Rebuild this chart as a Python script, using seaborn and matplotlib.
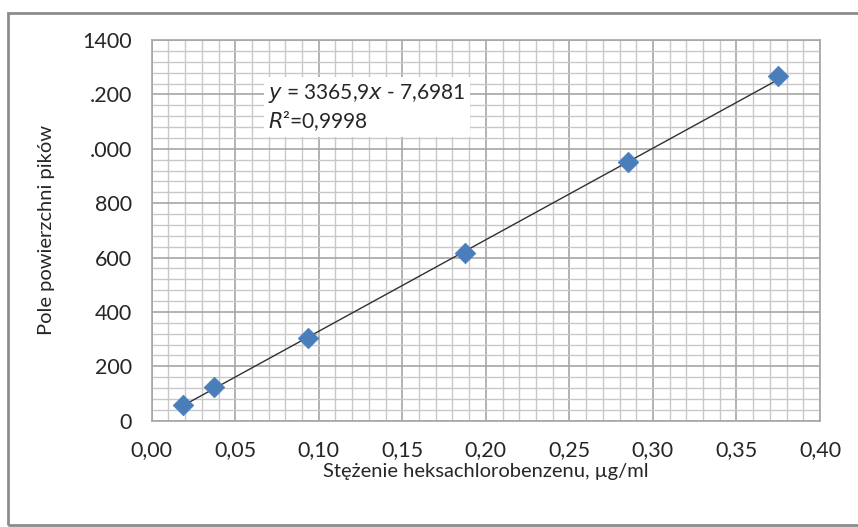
import numpy as np
import pandas as pd
import matplotlib
matplotlib.use("Agg")
import matplotlib.pyplot as plt
import seaborn as sns
from matplotlib.patches import Rectangle
from matplotlib.ticker import MultipleLocator, FixedLocator, FixedFormatter

# data
concentration = [0.01875, 0.0375, 0.0937, 0.1875, 0.285, 0.375]
peak_area = [58, 125, 303, 617, 952, 1268]
slope = 3365.9
intercept = -7.6981
r_squared = "0,9998"
x_ticks = [0.00, 0.05, 0.10, 0.15, 0.20, 0.25, 0.30, 0.35, 0.40]
x_tick_labels = ["0,00", "0,05", "0,10", "0,15", "0,20", "0,25", "0,30", "0,35", "0,40"]
y_ticks = [0, 200, 400, 600, 800, 1000, 1200, 1400]
y_tick_labels = ["0", "200", "400", "600", "800", ".000", ".200", "1400"]


def main():
    sns.set_style("white")
    plt.rcParams["font.family"] = ["Lato", "DejaVu Sans"]

    df = pd.DataFrame({"x": concentration, "y": peak_area})
    x_line = np.array([min(concentration), max(concentration)])
    fit = pd.DataFrame({"x": x_line, "y": slope * x_line + intercept})

    fig = plt.figure(figsize=(8.58, 5.27), dpi=100)
    ax = fig.add_axes([0.1768, 0.2017, 0.9557 - 0.1768, 0.9241 - 0.2017])

    # outer frame of the chart
    fig.patches.append(Rectangle((8 / 858, 2 / 527), 1.2, 1 - 15 / 527,
                                 transform=fig.transFigure, fill=False,
                                 edgecolor="#8c8c8c", linewidth=2.0))

    sns.lineplot(data=fit, x="x", y="y", color="#303030", linewidth=1.0, ax=ax, zorder=3)
    sns.scatterplot(data=df, x="x", y="y", marker="D", s=110, color="#4a7ebb",
                    edgecolor="#4a7ebb", linewidth=0.5, ax=ax, zorder=4)

    ax.set_xlim(0, 0.40)
    ax.set_ylim(0, 1400)
    ax.xaxis.set_major_locator(FixedLocator(x_ticks))
    ax.xaxis.set_major_formatter(FixedFormatter(x_tick_labels))
    ax.yaxis.set_major_locator(FixedLocator(y_ticks))
    ax.yaxis.set_major_formatter(FixedFormatter(y_tick_labels))
    ax.xaxis.set_minor_locator(MultipleLocator(0.01))
    ax.yaxis.set_minor_locator(MultipleLocator(40))

    ax.grid(which="major", color="#a6a6a6", linewidth=1.2)
    ax.grid(which="minor", color="#c8c8c8", linewidth=1.0)
    ax.set_axisbelow(True)
    for side in ax.spines.values():
        side.set_color("#a6a6a6")
        side.set_linewidth(1.2)

    ax.tick_params(axis="both", which="major", labelsize=15.5, colors="#a6a6a6",
                   labelcolor="#262626", direction="out", width=1.2)
    ax.tick_params(axis="x", which="major", length=8, pad=6)
    ax.tick_params(axis="y", which="major", length=6, pad=8)
    ax.tick_params(which="minor", length=0)

    ax.set_xlabel("Stężenie heksachlorobenzenu, µg/ml", fontsize=14.5,
                  color="#262626", labelpad=2)
    ax.set_ylabel("Pole powierzchni pików", fontsize=14.5, color="#262626", labelpad=20)

    ax.text(0.0695, 1245,
            "$\\mathit{y}$ = 3365,9$\\mathit{x}$ - 7,6981\n$\\mathit{R}$²=" + r_squared,
            fontsize=15, color="#262626", va="top", ha="left", linespacing=1.2,
            bbox=dict(facecolor="white", edgecolor="none", pad=3), zorder=5)

    fig.savefig("out.png", dpi=100)
    plt.close(fig)


if __name__ == "__main__":
    main()
